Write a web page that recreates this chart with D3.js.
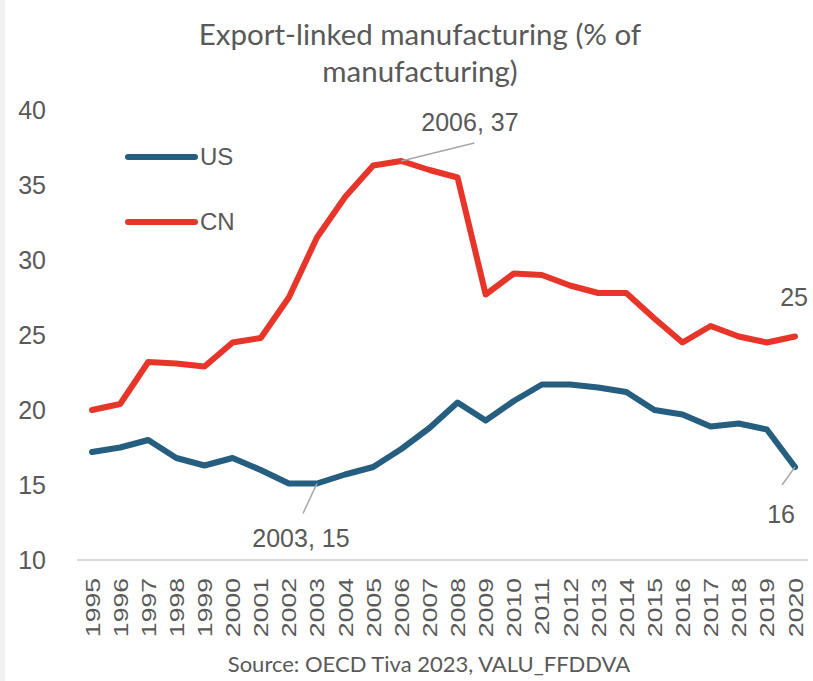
<!DOCTYPE html>
<html>
<head>
<meta charset="utf-8">
<script src="https://cdn.jsdelivr.net/npm/d3@7/dist/d3.min.js"></script>
<style>
  html, body { margin: 0; padding: 0; background: #ffffff; }
  svg { display: block; }
</style>
</head>
<body>
<div id="chart"></div>
<script>
// Export-linked manufacturing share, US vs CN (OECD TiVA 2023)
const years = [1995, 1996, 1997, 1998, 1999, 2000, 2001, 2002, 2003, 2004, 2005, 2006, 2007,
               2008, 2009, 2010, 2011, 2012, 2013, 2014, 2015, 2016, 2017, 2018, 2019, 2020];
const usValues = [17.2, 17.5, 18.0, 16.8, 16.3, 16.8, 16.0, 15.1, 15.1, 15.7, 16.2, 17.4, 18.8,
                  20.5, 19.3, 20.6, 21.7, 21.7, 21.5, 21.2, 20.0, 19.7, 18.9, 19.1, 18.7, 16.2];
const cnValues = [20.0, 20.4, 23.2, 23.1, 22.9, 24.5, 24.8, 27.5, 31.5, 34.2, 36.3, 36.6, 36.0,
                  35.5, 27.7, 29.1, 29.0, 28.3, 27.8, 27.8, 26.1, 24.5, 25.6, 24.9, 24.5, 24.9];
const yTicks = [10, 15, 20, 25, 30, 35, 40];
const titleLines = ["Export-linked manufacturing (% of", "manufacturing)"];
const sourceText = "Source: OECD Tiva 2023, VALU_FFDDVA";

const W = 813, H = 681;
const gray = "#595959";
const usColor = "#255e7e";
const cnColor = "#e8352a";

const svg = d3.select("#chart").append("svg")
  .attr("width", W).attr("height", H)
  .style("font-family", "'Liberation Sans', Arial, sans-serif");

// faint frame strip on the left edge
svg.append("rect").attr("x", 0).attr("y", 0).attr("width", 5).attr("height", H).attr("fill", "#f1f1f1");

const x = d3.scaleLinear().domain([1995, 2020]).range([92, 795]);
const y = d3.scaleLinear().domain([10, 40]).range([560, 110]);

// title
const title = svg.append("text")
  .attr("text-anchor", "middle")
  .attr("fill", gray)
  .style("font-family", "Lato, 'Open Sans', sans-serif")
  .style("font-size", "29.5px");
titleLines.forEach((t, i) => {
  title.append("tspan").attr("x", 420).attr("y", 45 + i * 37).text(t);
});

// y axis labels
const yAxis = svg.append("g")
  .attr("transform", "translate(46,0)")
  .call(d3.axisLeft(y).tickValues(yTicks).tickSize(0).tickPadding(0).tickFormat(d3.format("d")));
yAxis.select(".domain").remove();
yAxis.selectAll("text")
  .attr("fill", gray)
  .style("font-family", "'Liberation Sans', Arial, sans-serif")
  .style("font-size", "25px");

// baseline
svg.append("line")
  .attr("x1", 77).attr("x2", 808)
  .attr("y1", y(10)).attr("y2", y(10))
  .attr("stroke", "#d9d9d9").attr("stroke-width", 2);

// x axis labels (rotated)
const xAxis = svg.append("g")
  .attr("transform", `translate(0,${y(10)})`)
  .call(d3.axisBottom(x).tickValues(years).tickSize(0).tickFormat(d3.format("d")));
xAxis.select(".domain").remove();
xAxis.selectAll("text")
  .attr("fill", gray)
  .attr("text-anchor", "end")
  .attr("dy", "0.35em")
  .attr("y", 0)
  .attr("transform", "translate(0,18) rotate(-90) scale(1.33,1)")
  .style("font-family", "'Liberation Sans', Arial, sans-serif")
  .style("font-size", "20px");

// series lines
const line = d3.line()
  .x((d, i) => x(years[i]))
  .y(d => y(d));

const series = [
  { name: "US", values: usValues, color: usColor },
  { name: "CN", values: cnValues, color: cnColor }
];

series.forEach(s => {
  svg.append("path")
    .datum(s.values)
    .attr("fill", "none")
    .attr("stroke", s.color)
    .attr("stroke-width", 6)
    .attr("stroke-linejoin", "round")
    .attr("stroke-linecap", "round")
    .attr("d", line);
});

// legend
const legend = svg.append("g").attr("transform", "translate(128,157)");
series.forEach((s, i) => {
  const g = legend.append("g").attr("transform", `translate(0,${i * 65})`);
  g.append("line").attr("x1", 0).attr("x2", 67).attr("y1", 0).attr("y2", 0)
    .attr("stroke", s.color).attr("stroke-width", 6).attr("stroke-linecap", "round");
  g.append("text").attr("x", 72).attr("y", 0).attr("dy", "0.35em")
    .attr("fill", gray).style("font-size", "24px").text(s.name);
});

// data labels with leader lines
const fmt = d3.format(".0f");
const leader = "#a6a6a6";
function annotate(series, year, text, dx, dy, anchor, lx, ly) {
  const i = years.indexOf(year);
  const px = x(year), py = y(series[i]);
  if (lx !== null) {
    svg.append("line")
      .attr("x1", px).attr("y1", py)
      .attr("x2", px + lx).attr("y2", py + ly)
      .attr("stroke", leader).attr("stroke-width", 1.5);
  }
  svg.append("text")
    .attr("x", px + dx).attr("y", py + dy)
    .attr("text-anchor", anchor)
    .attr("fill", gray)
    .style("font-size", "25px")
    .text(text);
}
annotate(cnValues, 2006, `2006, ${fmt(cnValues[years.indexOf(2006)])}`, 20, -30, "start", 73, -18);
annotate(usValues, 2003, `2003, ${fmt(usValues[years.indexOf(2003)])}`, -16, 63, "middle", -14, 30);
annotate(usValues, 2020, fmt(usValues[years.indexOf(2020)]), 0, 56, "end", -13, 18);
annotate(cnValues, 2020, fmt(cnValues[years.indexOf(2020)]), 13, -31, "end", null, null);

// source note
svg.append("text")
  .attr("x", 429).attr("y", 672)
  .attr("text-anchor", "middle")
  .attr("fill", gray)
  .style("font-family", "Lato, 'Open Sans', sans-serif")
  .style("font-size", "22px")
  .text(sourceText);
</script>
</body>
</html>
